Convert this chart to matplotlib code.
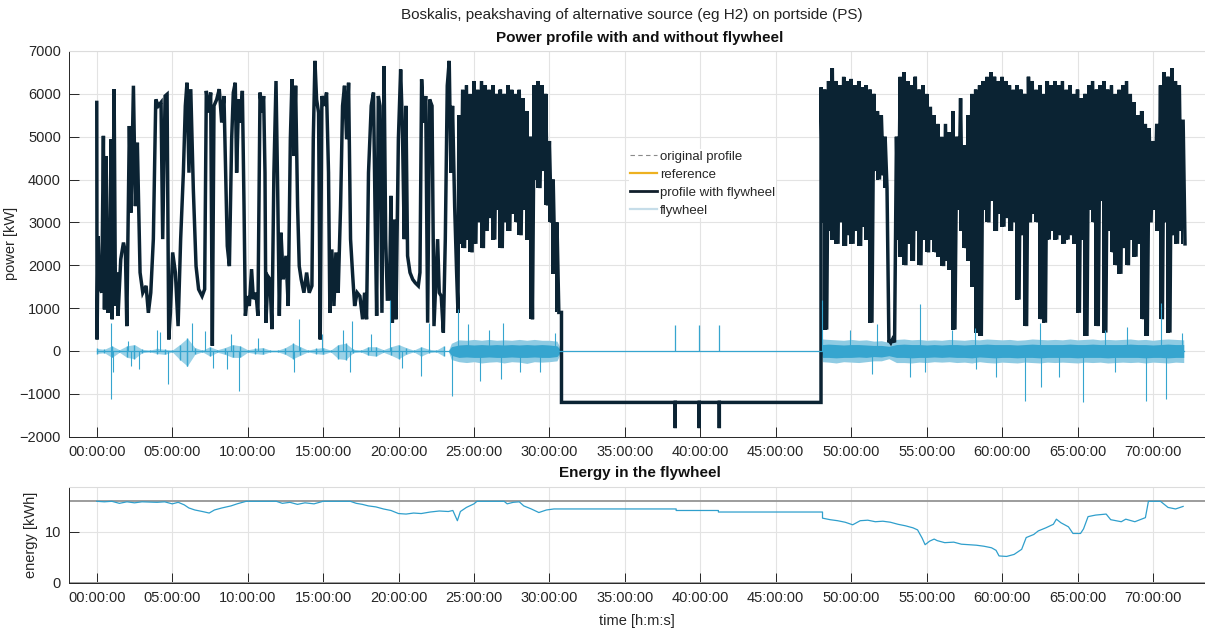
import numpy as np
import matplotlib.pyplot as plt
from matplotlib.lines import Line2D

plt.rcParams['font.family'] = ['Liberation Sans', 'DejaVu Sans']

# profile with flywheel, 0 - 24 h: traced peaks and troughs (hour, kW)
prof_pts = [
    (0.0, 5800), (0.02, 270), (0.09, 2680), (0.18, 1520), (0.33, 1360), (0.44, 5020),
    (0.51, 970), (0.62, 4550), (0.73, 890), (0.84, 1280), (0.95, 4940), (1.02, 740),
    (1.15, 6110), (1.24, 1050), (1.32, 1830), (1.41, 820), (1.59, 2140), (1.77, 2530),
    (1.90, 2300), (1.99, 580), (2.16, 5250), (2.27, 3230), (2.43, 6190), (2.56, 3380),
    (2.69, 4860), (2.87, 1830), (3.05, 1360), (3.27, 1520), (3.42, 890), (3.58, 1360),
    (3.75, 2610), (3.91, 5870), (4.08, 5720), (4.26, 5800), (4.37, 2610), (4.53, 5950),
    (4.66, 5990), (4.77, 270), (4.88, 890), (5.03, 2300), (5.21, 1830), (5.39, 580),
    (5.56, 2610), (5.74, 4160), (5.87, 5720), (5.98, 6260), (6.11, 4160), (6.23, 6110),
    (6.40, 3770), (6.58, 1980), (6.75, 1440), (6.98, 1280), (7.15, 1440), (7.26, 6070),
    (7.42, 5560), (7.55, 6030), (7.66, 120), (7.77, 5720), (7.95, 5870), (8.12, 6110),
    (8.28, 5330), (8.43, 5950), (8.57, 3770), (8.65, 2450), (8.79, 1980), (8.94, 4940),
    (9.05, 6030), (9.18, 6260), (9.27, 4160), (9.40, 5870), (9.54, 5330), (9.65, 6070),
    (9.76, 3380), (9.85, 820), (9.98, 1280), (10.11, 1050), (10.26, 1910), (10.38, 1210),
    (10.55, 1360), (10.68, 820), (10.82, 6030), (10.95, 5560), (11.06, 5950), (11.15, 4160),
    (11.21, 660), (11.35, 1740), (11.48, 1670), (11.61, 510), (11.74, 4160), (11.88, 6300),
    (11.99, 3770), (12.10, 820), (12.21, 2760), (12.36, 1670), (12.54, 2220), (12.69, 1050),
    (12.83, 4940), (12.94, 6340), (13.07, 4550), (13.18, 6190), (13.31, 3380), (13.42, 1980),
    (13.55, 1670), (13.73, 1360), (13.91, 1830), (14.08, 1360), (14.26, 1520), (14.35, 4940),
    (14.46, 6770), (14.57, 5870), (14.70, 5560), (14.81, 270), (14.92, 5950), (15.08, 5720),
    (15.23, 6030), (15.36, 4160), (15.45, 890), (15.58, 2370), (15.72, 1050), (15.85, 2300),
    (16.00, 1360), (16.16, 3380), (16.29, 5720), (16.42, 6190), (16.56, 4940), (16.69, 6260),
    (16.82, 2610), (16.95, 1830), (17.09, 1050), (17.26, 1360), (17.44, 1280), (17.62, 740),
    (17.75, 1360), (17.88, 740), (18.01, 4160), (18.19, 5720), (18.34, 6030), (18.44, 3380),
    (18.55, 820), (18.66, 5950), (18.77, 5720), (18.90, 890), (19.04, 6650), (19.15, 2610),
    (19.26, 1210), (19.39, 1210), (19.50, 3620), (19.59, 660), (19.70, 3070), (19.83, 740),
    (19.99, 4940), (20.14, 6570), (20.25, 5330), (20.38, 2610), (20.49, 5720), (20.60, 2220),
    (20.76, 1830), (20.94, 1670), (21.11, 1590), (21.31, 1520), (21.42, 1830), (21.53, 6340),
    (21.66, 5330), (21.80, 5950), (21.93, 660), (22.06, 5870), (22.22, 5720), (22.35, 580),
    (22.46, 1520), (22.59, 2610), (22.70, 1360), (22.83, 1280), (22.97, 430), (23.10, 2610),
    (23.23, 6190), (23.36, 6770), (23.47, 4160), (23.58, 5720), (23.72, 3380), (23.85, 1830),
    (23.94, 890),
]

# dense parts of the profile: (hour, upper, lower) every 0.25 h
band1 = [
    (24.0, 5500, 2500), (24.25, 6100, 2400), (24.5, 6200, 2600), (24.75, 6000, 2300),
    (25.0, 6300, 2500), (25.25, 6100, 3000), (25.5, 6300, 2400), (25.75, 6200, 2800),
    (26.0, 6100, 3100), (26.25, 6200, 2600), (26.5, 6000, 3300), (26.75, 6100, 2400),
    (27.0, 6000, 3000), (27.25, 6200, 2800), (27.5, 6100, 3200), (27.75, 6000, 3000),
    (28.0, 6100, 2700), (28.25, 5900, 3300), (28.5, 5600, 2600), (28.75, 5000, 740),
    (29.0, 6200, 4000), (29.25, 6300, 3800), (29.5, 6200, 4200), (29.75, 6000, 3400),
    (30.0, 4900, 3000), (30.25, 4000, 1800), (30.5, 3000, 900),
]
band2 = [
    (48.0, 6150, 3000), (48.25, 6100, 500), (48.5, 6300, 2800), (48.75, 6600, 2600),
    (49.0, 6300, 2500), (49.25, 6200, 3000), (49.5, 6400, 2450), (49.75, 6300, 2700),
    (50.0, 6350, 2500), (50.25, 6200, 2800), (50.5, 6300, 2450), (50.75, 6150, 2900),
    (51.0, 6200, 2600), (51.25, 6100, 660), (51.5, 6000, 4200), (51.75, 5600, 4000),
    (52.0, 5500, 4100), (52.25, 5000, 3800), (52.5, 250, 190), (52.75, 280, 200),
    (53.0, 5000, 2600), (53.25, 6400, 2200), (53.5, 6500, 2000), (53.75, 6300, 2500),
    (54.0, 6200, 2100), (54.25, 6400, 2800), (54.5, 6100, 2000), (54.75, 6200, 2600),
    (55.0, 6000, 2300), (55.25, 5700, 2600), (55.5, 5500, 2300), (55.75, 5300, 2200),
    (56.0, 5000, 1980), (56.25, 5300, 2100), (56.5, 5100, 1900), (56.75, 5600, 500),
    (57.0, 5000, 3300), (57.25, 5900, 2800), (57.5, 4800, 2400), (57.75, 5500, 2100),
    (58.0, 6000, 1500), (58.25, 6100, 430), (58.5, 6200, 350), (58.75, 6300, 3300),
    (59.0, 6400, 3000), (59.25, 6500, 3500), (59.5, 6400, 2800), (59.75, 6300, 3200),
    (60.0, 6400, 2900), (60.25, 6300, 3100), (60.5, 6200, 2800), (60.75, 6100, 3000),
    (61.0, 6200, 1200), (61.25, 6100, 2700), (61.5, 6000, 580), (61.75, 6400, 3000),
    (62.0, 6300, 3200), (62.25, 6100, 3000), (62.5, 6200, 740), (62.75, 6000, 660),
    (63.0, 6300, 2600), (63.25, 6200, 2800), (63.5, 6300, 2600), (63.75, 6200, 2700),
    (64.0, 6300, 2500), (64.25, 6100, 2600), (64.5, 6200, 2700), (64.75, 6000, 2500),
    (65.0, 6100, 890), (65.25, 5900, 2600), (65.5, 6000, 350), (65.75, 6200, 3300),
    (66.0, 6300, 3000), (66.25, 6100, 580), (66.5, 6200, 3500), (66.75, 6300, 430),
    (67.0, 6100, 2800), (67.25, 6200, 2300), (67.5, 6000, 2000), (67.75, 6100, 1800),
    (68.0, 6200, 2400), (68.25, 6300, 2000), (68.5, 6000, 2600), (68.75, 5800, 2200),
    (69.0, 5500, 2500), (69.25, 5600, 740), (69.5, 5300, 350), (69.75, 5200, 3000),
    (70.0, 4900, 3300), (70.25, 5300, 2800), (70.5, 6200, 740), (70.75, 6500, 3000),
    (71.0, 6400, 430), (71.25, 6600, 2700), (71.5, 6300, 2500), (71.75, 6200, 2800),
    (72.0, 5400, 2500),
]

# idle period of the profile
idle_start, idle_end, idle_kw = 30.8, 48.0, -1200
idle_spike_h = [38.34, 39.93, 41.26]
idle_spike_kw = -1800
fw_idle_spike_kw = 600

# flywheel, quiet part: (hour, upper, lower) every 0.5 h
fw_quiet = [
    (0.0, 60, -60), (0.5, 40, -40), (1.0, 120, -150), (1.5, 30, -30), (2.0, 120, -150),
    (2.5, 150, -180), (3.0, 40, -40), (3.5, 20, -20), (4.0, 60, -60), (4.5, 40, -80),
    (5.0, 20, -20), (5.5, 150, -200), (6.0, 300, -350), (6.5, 80, -80), (7.0, 20, -20),
    (7.5, 100, -120), (8.0, 30, -30), (8.5, 80, -80), (9.0, 150, -150), (9.5, 120, -150),
    (10.0, 30, -30), (10.5, 60, -60), (11.0, 80, -80), (11.5, 20, -20), (12.0, 20, -20),
    (12.5, 80, -80), (13.0, 180, -180), (13.5, 100, -100), (14.0, 20, -20), (14.5, 60, -60),
    (15.0, 80, -80), (15.5, 20, -20), (16.0, 150, -180), (16.5, 180, -200), (17.0, 40, -40),
    (17.5, 20, -20), (18.0, 100, -100), (18.5, 100, -120), (19.0, 30, -30), (19.5, 100, -100),
    (20.0, 150, -180), (20.5, 80, -80), (21.0, 20, -20), (21.5, 100, -120), (22.0, 40, -40),
    (22.5, 20, -20), (23.0, 120, -120),
]
# flywheel, busy parts: (hour, outer upper, outer lower, core upper, core lower)
fw_busy1 = [
    (23.3, 0, 0, 0, 0), (23.5, 180, -200, 100, -100), (24.0, 260, -250, 140, -150),
    (24.5, 250, -270, 150, -140), (25.0, 270, -250, 140, -150), (25.5, 250, -280, 150, -150),
    (26.0, 270, -260, 140, -140), (26.5, 250, -250, 150, -150), (27.0, 260, -280, 140, -150),
    (27.5, 250, -250, 150, -140), (28.0, 270, -260, 140, -150), (28.5, 250, -290, 150, -150),
    (29.0, 270, -250, 140, -140), (29.5, 250, -260, 150, -150), (30.0, 250, -250, 140, -150),
    (30.5, 230, -230, 120, -130), (30.8, 0, 0, 0, 0),
]
fw_busy2 = [
    (48.0, 0, 0, 0, 0), (48.1, 280, -250, 150, -150), (48.5, 270, -260, 160, -150),
    (49.0, 260, -280, 150, -160), (49.5, 250, -250, 140, -150), (50.0, 270, -260, 150, -150),
    (50.5, 250, -270, 150, -140), (51.0, 260, -250, 140, -150), (51.5, 230, -230, 130, -130),
    (52.0, 240, -230, 130, -140), (52.5, 200, -180, 110, -110), (53.0, 270, -270, 150, -150),
    (53.5, 280, -270, 160, -150), (54.0, 260, -280, 150, -160), (54.5, 270, -260, 150, -150),
    (55.0, 250, -270, 140, -150), (55.5, 260, -250, 150, -140), (56.0, 250, -260, 140, -150),
    (56.5, 270, -250, 150, -140), (57.0, 260, -270, 150, -150), (57.5, 250, -260, 140, -150),
    (58.0, 270, -280, 150, -160), (58.5, 260, -250, 150, -140), (59.0, 280, -270, 160, -150),
    (59.5, 270, -280, 150, -160), (60.0, 260, -260, 150, -150), (60.5, 270, -270, 150, -150),
    (61.0, 250, -280, 140, -160), (61.5, 260, -260, 150, -150), (62.0, 280, -270, 160, -150),
    (62.5, 270, -280, 150, -160), (63.0, 260, -260, 150, -150), (63.5, 270, -270, 150, -150),
    (64.0, 260, -260, 150, -150), (64.5, 280, -270, 160, -150), (65.0, 260, -280, 150, -160),
    (65.5, 270, -260, 150, -150), (66.0, 280, -270, 160, -150), (66.5, 260, -260, 150, -150),
    (67.0, 270, -280, 150, -160), (67.5, 260, -270, 150, -150), (68.0, 270, -260, 150, -150),
    (68.5, 280, -270, 160, -150), (69.0, 260, -260, 150, -150), (69.5, 270, -280, 150, -160),
    (70.0, 250, -260, 140, -150), (70.5, 270, -270, 150, -150), (71.0, 280, -280, 160, -160),
    (71.5, 270, -260, 150, -150), (72.04, 260, -270, 150, -150),
]
# isolated flywheel peaks (hour, kW)
fw_spikes = [
    (0.93, 660), (0.97, -1130), (1.10, -500), (2.10, 230), (2.30, -350), (2.80, -430),
    (3.97, 500), (4.20, 450), (4.75, -780), (5.96, -350), (6.30, 660), (7.20, 470),
    (7.70, -400), (8.60, -430), (8.90, 400), (9.40, -930), (10.70, 300), (13.10, -500),
    (13.40, 740), (14.90, 400), (16.30, 500), (16.80, -500), (16.90, 700), (18.20, 400),
    (19.43, 1200), (20.20, -400), (21.50, -580), (22.00, 660), (23.56, -1050), (23.96, 970),
    (24.60, 620), (25.40, -700), (26.00, 500), (26.80, -650), (26.90, 660), (28.05, -500),
    (29.40, -500), (30.40, 430),
    (48.06, 1200), (49.90, 500), (51.35, -545), (51.70, 620), (53.90, -600), (54.55, 1090),
    (54.90, -500), (56.65, 500), (58.20, 540), (58.25, -430), (59.60, -600), (61.50, -1170),
    (62.50, 660), (62.60, -850), (63.80, -600), (65.37, -1200), (66.80, 500), (67.50, -500),
    (68.30, 550), (69.52, -1170), (70.56, 1130), (70.85, -1130), (71.95, 430),
]

# energy in the flywheel (hour, kWh)
energy_pts = [
    (0, 16.0), (0.5, 15.9), (1.0, 16.0), (1.5, 15.6), (2.0, 15.9), (2.5, 15.7), (3.0, 15.9),
    (4.0, 15.8), (4.5, 15.9), (5.0, 15.5), (5.4, 15.8), (5.8, 15.3), (6.1, 14.7), (6.5, 14.3),
    (7.0, 14.0), (7.45, 13.7), (7.8, 14.3), (8.3, 14.7), (8.9, 15.1), (9.3, 15.5), (9.9, 16.0),
    (11.9, 16.0), (12.3, 15.6), (12.8, 15.8), (13.3, 15.4), (13.8, 15.7), (14.4, 15.5),
    (15.0, 16.0), (16.8, 16.0), (17.2, 15.6), (17.6, 15.4), (18.0, 15.1), (18.5, 14.9),
    (19.0, 14.5), (19.5, 14.2), (20.0, 13.6), (20.5, 13.5), (21.0, 13.7), (21.5, 13.6),
    (22.1, 13.9), (22.7, 14.1), (23.3, 14.0), (23.6, 14.2), (23.9, 12.2), (24.1, 14.0),
    (24.5, 14.8), (25.0, 15.5), (25.2, 16.0), (27.0, 16.0), (27.2, 15.5), (27.6, 15.8),
    (28.0, 15.9), (28.3, 15.1), (28.8, 14.5), (29.3, 13.8), (29.8, 14.3), (30.3, 14.5),
    (38.4, 14.5), (38.4, 14.2), (41.2, 14.2), (41.2, 13.9), (48.1, 13.9), (48.1, 12.7),
    (48.6, 12.4), (49.1, 12.2), (49.6, 11.9), (50.1, 11.4), (50.6, 12.2), (51.1, 12.3),
    (51.6, 12.0), (52.1, 12.1), (52.6, 11.9), (53.1, 11.5), (53.6, 11.2), (54.1, 10.8),
    (54.4, 10.4), (54.7, 8.8), (54.9, 7.5), (55.2, 8.2), (55.5, 8.6), (55.7, 8.3), (56.2, 7.9),
    (56.8, 8.0), (57.3, 7.6), (57.8, 7.5), (58.3, 7.4), (58.8, 7.2), (59.3, 6.9), (59.6, 6.4),
    (59.8, 5.3), (60.3, 5.2), (60.8, 5.6), (61.3, 6.6), (61.6, 8.9), (62.1, 9.5), (62.4, 10.2),
    (62.9, 10.8), (63.4, 11.5), (63.6, 12.5), (63.9, 11.8), (64.4, 11.0), (64.7, 9.7),
    (65.2, 9.7), (65.4, 10.6), (65.7, 13.0), (66.2, 13.3), (66.9, 13.5), (67.2, 12.4),
    (67.9, 12.0), (68.2, 12.5), (68.8, 12.0), (69.5, 12.8), (69.7, 16.0), (70.5, 16.0),
    (71.0, 14.8), (71.5, 14.5), (72.0, 15.0),
]
e_max = 16
e_min = 0
tick_hours = list(range(0, 71, 5))

prof_col = '#0b2333'
fw_col = '#36a5cf'
fw_light = '#8fcbe3'
txt_col = '#262626'


def style_axes(ax):
    ax.set_xlim(-1.82, 73.45)
    ax.set_xticks(tick_hours)
    ax.set_xticklabels([f'{h:02d}:00:00' for h in tick_hours])
    ax.grid(True, color='#e3e3e3', lw=0.8)
    ax.set_axisbelow(True)
    ax.tick_params(direction='in', length=7, width=0.7, colors=txt_col,
                   labelsize=10.5, pad=6)
    for side in ['left', 'bottom']:
        ax.spines[side].set_color(txt_col)
        ax.spines[side].set_linewidth(0.7)
    ax.spines['top'].set_color('#dcdcdc')
    ax.spines['right'].set_visible(False)


fig = plt.figure(figsize=(12.05, 6.28), dpi=100)
W, H = 1205, 628
ax1 = fig.add_axes([69.3 / W, 1 - 436.7 / H, 1 - 69.3 / W, (436.7 - 51) / H])
ax2 = fig.add_axes([69.3 / W, 1 - 583 / H, 1 - 69.3 / W, (583 - 487) / H])

# build the profile line from the traced points
ph = [p[0] for p in prof_pts]
pk = [p[1] for p in prof_pts]
for t, hi, lo in band1:
    ph += [t, t + 0.125]
    pk += [hi, lo]
ph += [idle_start, idle_start]
pk += [band1[-1][2], idle_kw]
for s in idle_spike_h:
    ph += [s, s, s]
    pk += [idle_kw, idle_spike_kw, idle_kw]
ph += [idle_end]
pk += [idle_kw]
for t, hi, lo in band2:
    ph += [t, t + 0.125]
    pk += [hi, lo]
ax1.plot(ph, pk, color=prof_col, lw=2.5, solid_joinstyle='miter')
# the dense parts are filled solid
for band in (band1, band2):
    ax1.fill_between([b[0] for b in band], [b[2] for b in band], [b[1] for b in band],
                     step='mid', color=prof_col, lw=0)

# flywheel
ax1.plot([0, 72.04], [0, 0], color=fw_col, lw=0.9)
ax1.vlines([f[0] for f in fw_quiet], [f[2] for f in fw_quiet], [f[1] for f in fw_quiet],
           color=fw_col, lw=1.0)
ax1.fill_between([f[0] for f in fw_quiet], [f[2] for f in fw_quiet], [f[1] for f in fw_quiet],
                 color=fw_col, lw=0, alpha=0.5)
for band in (fw_busy1, fw_busy2):
    bt = [b[0] for b in band]
    ax1.fill_between(bt, [b[2] for b in band], [b[1] for b in band], color=fw_light, lw=0)
    ax1.fill_between(bt, [b[4] for b in band], [b[3] for b in band], color=fw_col, lw=0)
ax1.vlines([s[0] for s in fw_spikes], 0, [s[1] for s in fw_spikes], color=fw_col, lw=0.8)
ax1.vlines(idle_spike_h, 0, fw_idle_spike_kw, color=fw_col, lw=0.9)

style_axes(ax1)
ax1.set_ylim(-2000, 7000)
ax1.set_yticks(np.arange(-2000, 7001, 1000))
ax1.set_ylabel('power [kW]', fontsize=10.5, color=txt_col)
ax1.yaxis.set_label_coords(-0.045, 0.5)

handles = [
    Line2D([], [], color='#8a8a8a', lw=0.8, ls=(0, (4, 3))),
    Line2D([], [], color='#edb120', lw=1.6),
    Line2D([], [], color='#111f2b', lw=2.0),
    Line2D([], [], color='#c6dde9', lw=1.6),
]
labels = ['original profile', 'reference', 'profile with flywheel', 'flywheel']
leg = fig.legend(handles, labels, loc='upper left', bbox_to_anchor=(629 / W, 1 - 149 / H),
                 frameon=True, facecolor='white', edgecolor='none', framealpha=1,
                 fontsize=9.5, handlelength=2.0, handletextpad=0.25, labelspacing=0.45,
                 borderpad=0.1, borderaxespad=0)
for t in leg.get_texts():
    t.set_color(txt_col)

# energy
ax2.axhline(e_max, color='#9c9c9c', lw=1.4)
ax2.axhline(e_min, color='#9c9c9c', lw=1.4)
ax2.plot([e[0] for e in energy_pts], [e[1] for e in energy_pts], color='#2f9fcc', lw=0.9)
style_axes(ax2)
ax2.set_ylim(0, 18.8)
ax2.set_yticks([0, 10])
ax2.set_ylabel('energy [kWh]', fontsize=10.5, color=txt_col)
ax2.yaxis.set_label_coords(-0.0276, 0.5)
ax2.set_xlabel('time [h:m:s]', fontsize=10.5, color=txt_col, labelpad=6)

fig.text(632 / W, 1 - 15 / H, 'Boskalis, peakshaving of alternative source (eg H2) on portside (PS)',
         ha='center', va='center', fontsize=11, color='#222222')
fig.text(640 / W, 1 - 38 / H, 'Power profile with and without flywheel',
         ha='center', va='center', fontsize=11, fontweight='bold', color='#111111')
fig.text(640 / W, 1 - 473 / H, 'Energy in the flywheel',
         ha='center', va='center', fontsize=11, fontweight='bold', color='#111111')

fig.savefig('out.png', dpi=100)
